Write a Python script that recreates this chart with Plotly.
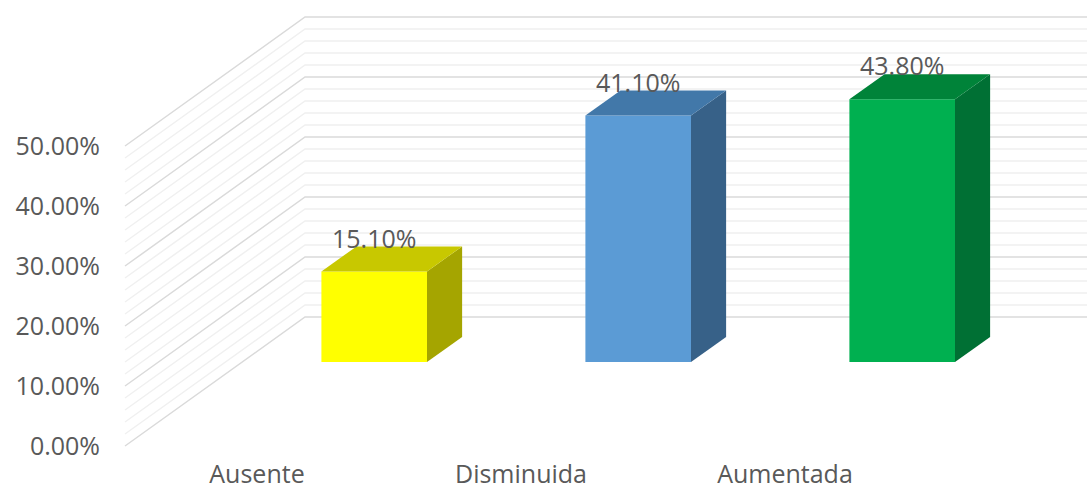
import plotly.graph_objects as go

categorias = ['Ausente', 'Disminuida', 'Aumentada']
valores = [15.1, 41.1, 43.8]
etiquetas = ['15.10%', '41.10%', '43.80%']
ticks_y = [0, 10, 20, 30, 40, 50]
ticks_y_texto = ['0.00%', '10.00%', '20.00%', '30.00%', '40.00%', '50.00%']
lineas_mayores = [0, 10, 20, 30, 40, 50]
lineas_menores = [2, 4, 6, 8, 12, 14, 16, 18, 22, 24, 26, 28, 32, 34, 36, 38, 42, 44, 46, 48]

colores_frente = ['#FFFF00', '#5B9BD5', '#00B050']
colores_lado = ['#A5A500', '#376188', '#007034']
colores_techo = ['#C8C800', '#4278A9', '#008339']

# Proyeccion oblicua: la profundidad desplaza en x (categorias) y en y (%)
FONDO_X = 0.682
FONDO_Y = 21.5
BARRA_D = 0.651       # posicion de la barra en el piso
PROF_X = 0.133
PROF_Y = 4.17
ANCHO = 0.4
X_INI = -0.5
X_FIN = 3.3

FUENTE = 'Open Sans'
GRIS = '#595959'

fig = go.Figure()


def agregar_rejilla(niveles, color):
    xs, ys = [], []
    for v in niveles:
        xs += [X_INI, X_INI + FONDO_X, X_FIN, None]
        ys += [v, v + FONDO_Y, v + FONDO_Y, None]
    fig.add_trace(go.Scatter(x=xs, y=ys, mode='lines', line=dict(color=color, width=1.5),
                             hoverinfo='skip', zorder=0))


agregar_rejilla(lineas_menores, '#F0F0F0')
agregar_rejilla(lineas_mayores, '#DADADA')

base = BARRA_D * FONDO_Y
for i, v in enumerate(valores):
    xc = i + BARRA_D * FONDO_X
    izq = xc - ANCHO / 2
    der = xc + ANCHO / 2
    tope = base + v

    # Frente
    fig.add_trace(go.Bar(x=[xc], y=[v], base=[base], width=ANCHO, marker=dict(color=colores_frente[i], line=dict(width=0)),
                         hoverinfo='skip', zorder=1))
    # Lado derecho
    fig.add_trace(go.Scatter(x=[der, der + PROF_X, der + PROF_X, der, der],
                             y=[base, base + PROF_Y, tope + PROF_Y, tope, base],
                             mode='lines', fill='toself', fillcolor=colores_lado[i],
                             line=dict(width=0), hoverinfo='skip', zorder=2))
    # Techo
    fig.add_trace(go.Scatter(x=[izq, der, der + PROF_X, izq + PROF_X, izq],
                             y=[tope, tope, tope + PROF_Y, tope + PROF_Y, tope],
                             mode='lines', fill='toself', fillcolor=colores_techo[i],
                             line=dict(width=0), hoverinfo='skip', zorder=2))
    # Etiqueta
    fig.add_trace(go.Scatter(x=[xc], y=[tope + 5], mode='text', text=[etiquetas[i]],
                             textposition='middle center',
                             textfont=dict(family=FUENTE, size=25, color=GRIS),
                             hoverinfo='skip', zorder=3))

fig.update_layout(
    width=1087,
    height=490,
    margin=dict(l=101, r=0, t=0, b=28),
    paper_bgcolor='white',
    plot_bgcolor='white',
    showlegend=False,
    hovermode=False,
    xaxis=dict(range=[-0.5909, 3.144], tickmode='array', tickvals=[0, 1, 2], ticktext=categorias,
               showgrid=False, zeroline=False, showline=False, ticks='', automargin=False,
               ticklabelstandoff=-5,
               tickfont=dict(family=FUENTE, size=25, color=GRIS)),
    yaxis=dict(range=[-2.667, 74.333], tickmode='array', tickvals=ticks_y, ticktext=ticks_y_texto,
               showgrid=False, zeroline=False, showline=False, ticks='', automargin=False,
               tickfont=dict(family=FUENTE, size=25, color=GRIS)),
)

# La pagina trae margen por defecto; se quita para que la figura llene la ventana
fig.write_html("out.html", config={'displayModeBar': False},
               post_script="document.body.style.margin='0';")
